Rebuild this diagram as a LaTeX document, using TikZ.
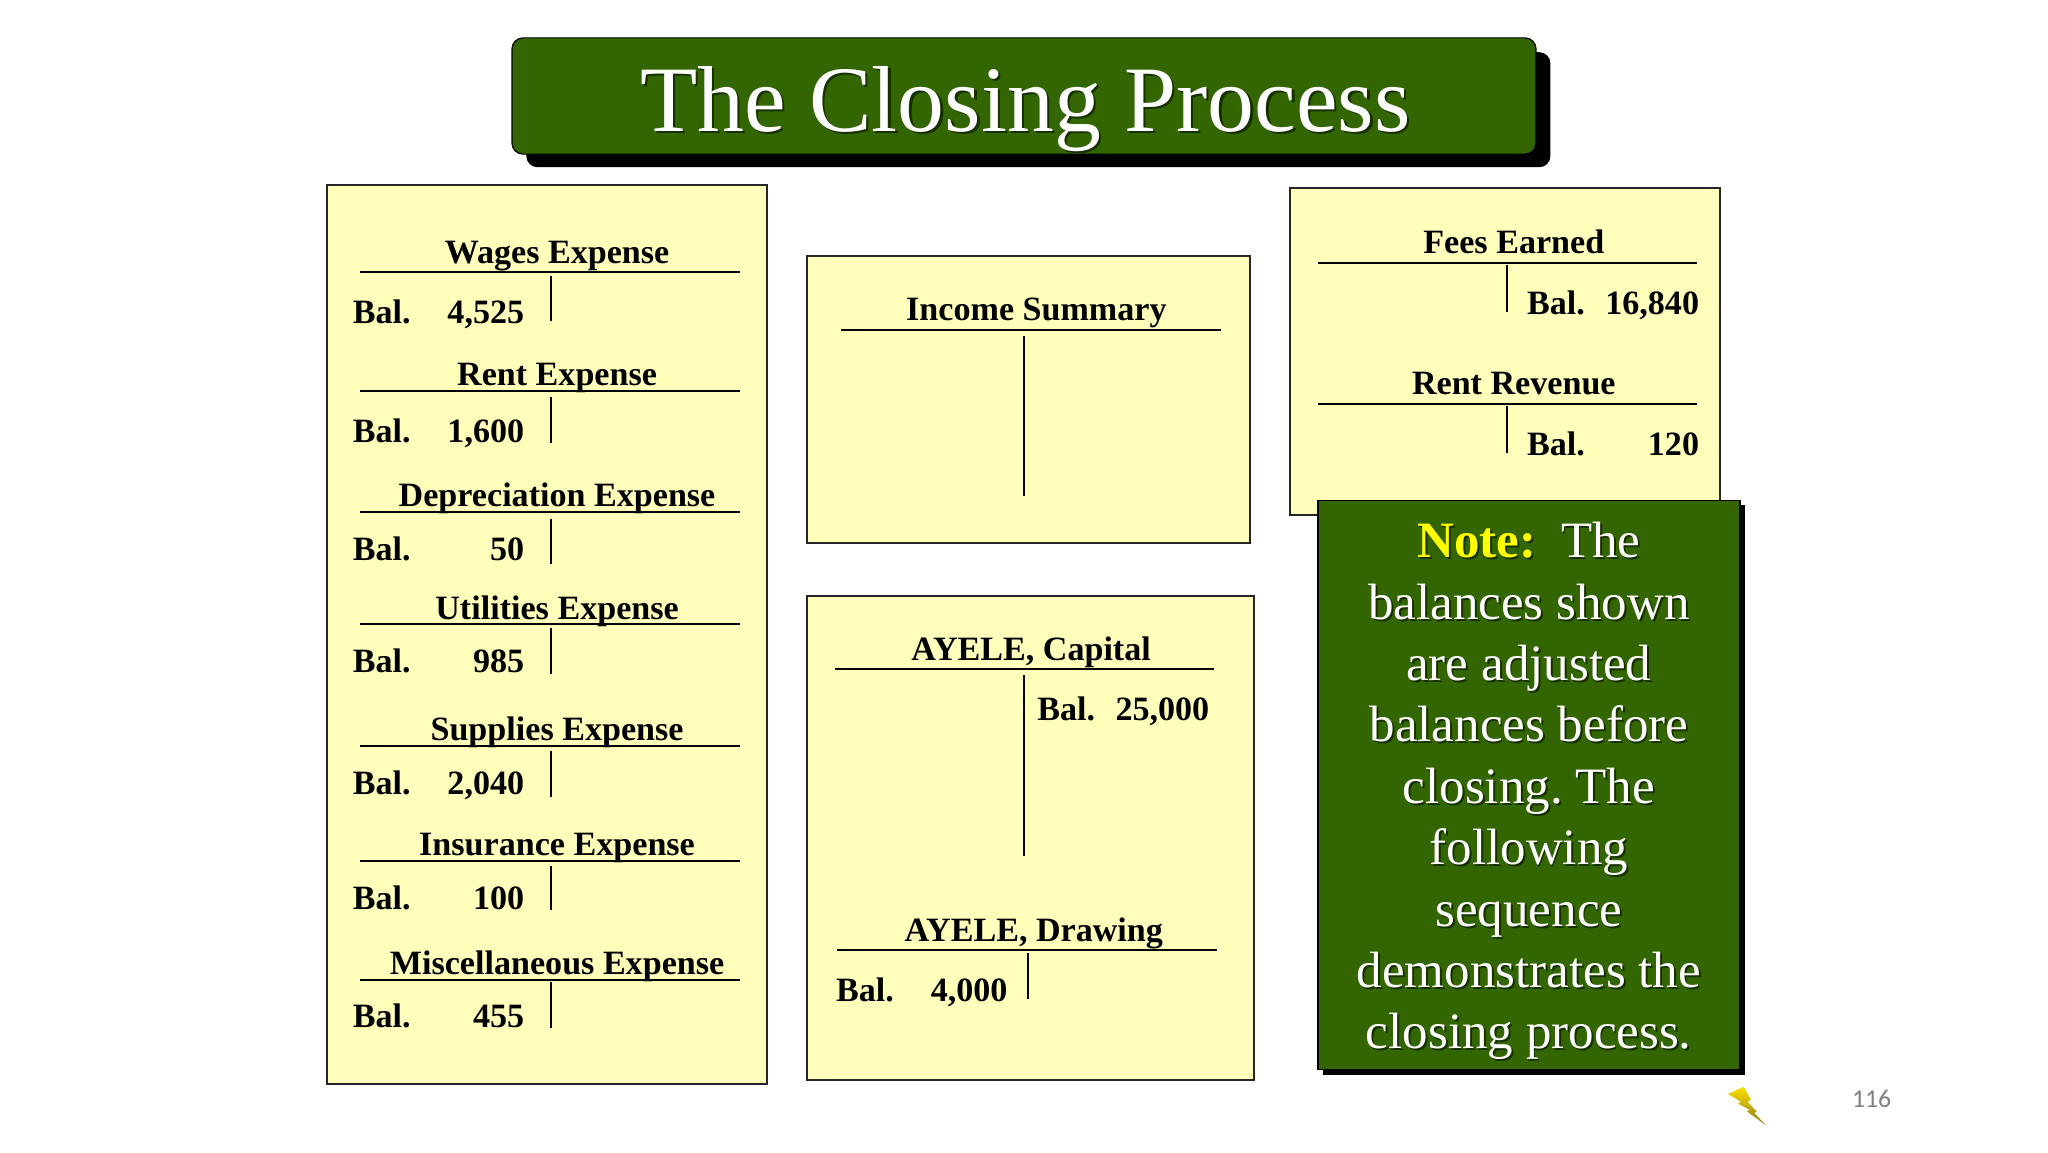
\documentclass[tikz,border=0pt]{standalone}
\usepackage{fontspec}
\setmainfont{Liberation Serif}
\newfontfamily\pagefont{Carlito}
\definecolor{panelfill}{HTML}{FFFFBB}
\definecolor{boardgreen}{HTML}{336600}
\definecolor{notegold}{HTML}{FFFF00}
\definecolor{shadegreen}{HTML}{173000}
\definecolor{bolttop}{HTML}{FFE000}
\definecolor{boltbottom}{HTML}{8A7A10}
\newcommand{\acfont}{\fontsize{34.1pt}{36pt}\selectfont\bfseries}
\newcommand{\notefont}{\frenchspacing\fontsize{51pt}{61.4pt}\selectfont}
\newcommand{\titlefont}{\fontsize{93.7pt}{100pt}\selectfont}
\tikzset{
  x=1.30612pt,y=-1.30612pt,
  panel/.style={draw=black!85,fill=panelfill,line width=2pt},
  rule/.style={draw=black,line width=2pt},
  actext/.style={font=\acfont,inner sep=0pt,text=black},
  head/.style={actext,anchor=base},
  balword/.style={actext,anchor=base west},
  balval/.style={actext,anchor=base east},
  notetext/.style={font=\notefont,inner sep=0pt,anchor=base,text=white},
  noteshade/.style={font=\notefont,inner sep=0pt,anchor=base,text=shadegreen},
}
% name, title, head x, head base y, rule left x, stem x, rule y, stem top, stem bottom
\newcommand{\acctframe}[9]{%
  \node[head] (#1h) at (#3,#4) {#2};
  \coordinate (#1a) at (#5,#7);
  \coordinate (#1b) at (#5+290.5,#7);
  \coordinate (#1c) at (#6,#8);
  \coordinate (#1d) at (#6,#9);
  \draw[rule] (#1a) -- (#1b);
  \draw[rule] (#1c) -- (#1d);
}
% name, left x, right x, base y, value
\newcommand{\balrow}[5]{%
  \node[balword] (#1w) at (#2,#4) {Bal.};
  \node[balval] (#1v) at (#3,#4) {#5};
}
\begin{document}
\begin{tikzpicture}
\useasboundingbox (0,0) rectangle (1568,882);
\fill[white] (0,0) rectangle (1568,882);

% title
\fill[black,rounded corners=11] (403,40) rectangle (1187,128);
\draw[fill=boardgreen,draw=black,line width=1.2pt,rounded corners=11] (392,29) rectangle (1176,118);
\node[font=\titlefont,inner sep=0pt,anchor=base,text=shadegreen] at (787,102.5) {The Closing Process};
\node[font=\titlefont,inner sep=0pt,anchor=base,text=white] (title) at (785,100.5) {The Closing Process};

% panels
\draw[panel] (250.5,142) rectangle (587,830);
\draw[panel] (618,196) rectangle (957,416);
\draw[panel] (618,456) rectangle (960,827);
\draw[panel] (988,144) rectangle (1317,394);

% expense accounts
\acctframe{wa}{Wages Expense}{426.5}{202}{276}{421.5}{208.5}{211}{245.5}
\balrow{wa}{270}{401.5}{248}{4,525}
\acctframe{re}{Rent Expense}{426.5}{295}{276}{421.5}{299}{304}{339}
\balrow{re}{270}{401.5}{339}{1,600}
\acctframe{de}{Depreciation Expense}{426.5}{388}{276}{421.5}{392}{397}{432}
\balrow{de}{270}{401.5}{429}{50}
\acctframe{ut}{Utilities Expense}{426.5}{474}{276}{421.5}{478}{481}{516}
\balrow{ut}{270}{401.5}{515}{985}
\acctframe{su}{Supplies Expense}{426.5}{567}{276}{421.5}{571}{575}{610}
\balrow{su}{270}{401.5}{608}{2,040}
\acctframe{in}{Insurance Expense}{426.5}{655}{276}{421.5}{659}{663}{697}
\balrow{in}{270}{401.5}{696}{100}
\acctframe{mi}{Miscellaneous Expense}{426.5}{746}{276}{421.5}{750}{752}{787}
\balrow{mi}{270}{401.5}{787}{455}

% income summary
\acctframe{is}{Income Summary}{793.5}{245.5}{644}{784}{252.5}{257}{380}

% capital
\acctframe{ca}{AYELE, Capital}{789.5}{505.5}{639}{784}{512}{517}{655}
\balrow{ca}{794}{926}{551.7}{25,000}

% drawing
\acctframe{dr}{AYELE, Drawing}{791.5}{720.5}{641}{787}{727.5}{730}{765}
\balrow{dr}{640}{771.5}{767}{4,000}

% revenue
\acctframe{fe}{Fees Earned}{1159}{194}{1009}{1154}{201}{203}{239}
\balrow{fe}{1169}{1301}{240.7}{16,840}
\acctframe{rv}{Rent Revenue}{1159}{302}{1009}{1154}{309}{311}{346.5}
\balrow{rv}{1169}{1301}{348.7}{120}

% note
\fill[black] (1013,387) rectangle (1336,823);
\draw[fill=boardgreen,draw=black,line width=1.5pt] (1009,383) rectangle (1332,819);
\foreach \yy/\tx in {474/balances shown,521/are adjusted,568/balances before,615/closing. The,662/following,709/sequence,756/demonstrates the,803/closing process.}{
  \node[noteshade] at (1172,\yy+1.5) {\tx};
  \node[notetext] at (1170.5,\yy) {\tx};
}
\node[noteshade] at (1172,428.5) {\textbf{Note:}\hspace{12pt} The};
\node[notetext] (note) at (1170.5,427) {\textcolor{notegold}{\textbf{Note:}}\hspace{12pt} The};

% lightning mark
\shade[top color=bolttop,bottom color=boltbottom]
  (1323,837.6) -- (1335,832) -- (1340.6,842) -- (1338,843.6) -- (1345,851) -- (1343,852)
  -- (1352,861.5) -- (1337.6,851) -- (1339.5,849.5) -- (1330.6,845) -- (1333,843.6) -- cycle;

% page number
\node[font=\pagefont\fontsize{25.7pt}{28pt}\selectfont,text=black!50,inner sep=0pt,anchor=base] (page) at (1433,848) {116};
\end{tikzpicture}
\end{document}
